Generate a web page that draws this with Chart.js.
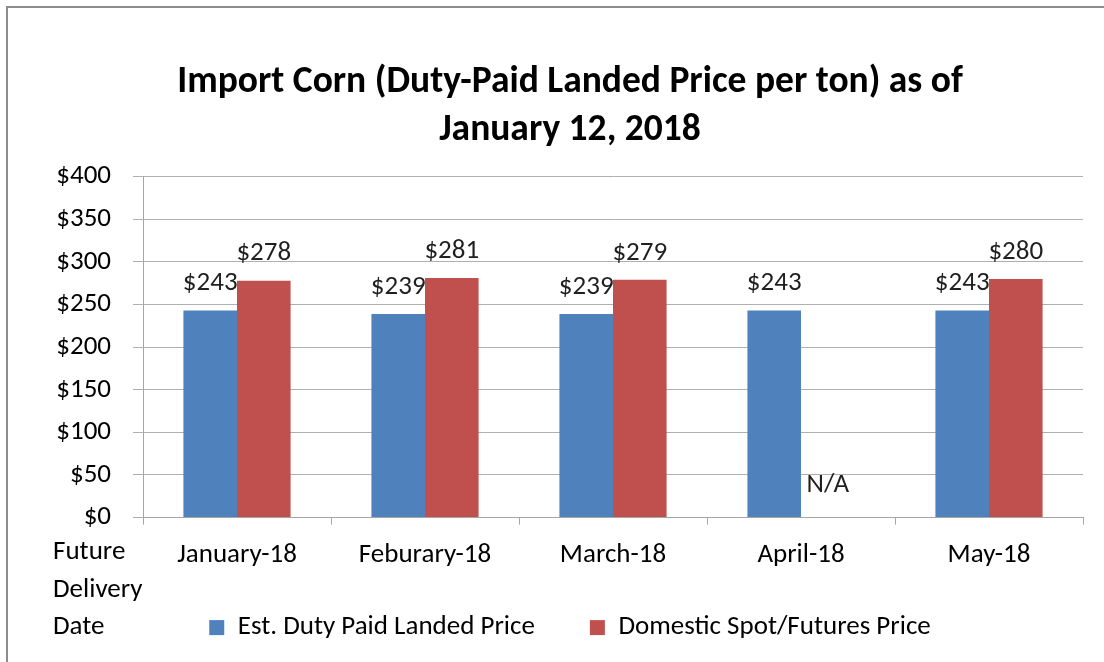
<!DOCTYPE html>
<html>
<head>
<meta charset="utf-8">
<script src="https://cdn.jsdelivr.net/npm/chart.js@4.4.1/dist/chart.umd.min.js"></script>
<style>
  html, body { margin: 0; padding: 0; background: #ffffff; overflow: hidden; }
  #frame { position: absolute; left: 6px; top: 6px; width: 1200px; height: 800px;
           border-left: 2px solid #8c8c8c; border-top: 2px solid #8c8c8c; }
  #wrap { position: absolute; left: 0; top: 0; width: 1104px; height: 662px; }
</style>
</head>
<body>
<div id="frame"></div>
<div id="wrap"><canvas id="c" width="1104" height="662"></canvas></div>
<script>
// ---- data ----
const categories = ['January-18', 'Feburary-18', 'March-18', 'April-18', 'May-18'];
const landedPrice = [243, 239, 239, 243, 243];
const domesticPrice = [278, 281, 279, null, 280];
const seriesNames = ['Est. Duty Paid Landed Price', 'Domestic Spot/Futures Price'];
const titleLines = ['Import Corn (Duty-Paid Landed Price per ton) as of', 'January 12, 2018'];
const axisNoteLines = ['Future', 'Delivery', 'Date'];
const missingLabel = 'N/A';
const yMin = 0, yMax = 400, yStep = 50;

const FONT = 'Carlito, Lato, "Open Sans", sans-serif';
const FS = 27;
const BLUE = '#4F81BD', RED = '#C0504D';
const NOTE_GAP = 37.5;

function noteTop(chart) { return chart.scales.x.top + 35; }

const valueLabels = {
  id: 'valueLabels',
  afterDatasetsDraw(chart) {
    const ctx = chart.ctx, ys = chart.scales.y;
    ctx.save();
    ctx.font = FS + 'px ' + FONT;
    ctx.fillStyle = '#1f1f1f';
    ctx.textAlign = 'center';
    ctx.textBaseline = 'middle';
    chart.data.datasets.forEach((ds, i) => {
      const meta = chart.getDatasetMeta(i);
      meta.data.forEach((bar, j) => {
        const v = ds.data[j];
        if (v === null || v === undefined) {
          ctx.fillText(missingLabel, bar.x, ys.bottom - 32);
        } else {
          ctx.fillText('$' + v, bar.x, bar.y - 27);
        }
      });
    });
    ctx.restore();
  }
};

const axisNote = {
  id: 'axisNote',
  afterLayout(chart) {
    // place the legend row on the same line as the last note line
    const lg = chart.legend;
    if (!lg) return;
    const pad = lg.options.labels.padding;
    const itemH = Math.max(FS, lg.options.labels.boxHeight);
    const target = noteTop(chart) + 2 * NOTE_GAP;
    lg.top = target - pad - itemH / 2;
    lg.bottom = lg.top + pad + itemH + 20;
    lg.height = lg.bottom - lg.top;
  },
  afterDraw(chart) {
    const ctx = chart.ctx, ys = chart.scales.y;
    ctx.save();
    ctx.font = FS + 'px ' + FONT;
    ctx.fillStyle = '#000000';
    ctx.textAlign = 'left';
    ctx.textBaseline = 'middle';
    const y0 = noteTop(chart);
    axisNoteLines.forEach((t, i) => ctx.fillText(t, ys.left - 4, y0 + i * NOTE_GAP));
    ctx.restore();
  }
};

new Chart(document.getElementById('c'), {
  type: 'bar',
  data: {
    labels: categories,
    datasets: [
      { label: seriesNames[0], data: landedPrice, backgroundColor: BLUE, borderWidth: 0 },
      { label: seriesNames[1], data: domesticPrice, backgroundColor: RED, borderWidth: 0 }
    ]
  },
  options: {
    responsive: false,
    animation: false,
    devicePixelRatio: 1,
    layout: { padding: { left: 57, right: 21, top: 6, bottom: 37 } },
    datasets: { bar: { barPercentage: 1.0, categoryPercentage: 0.57 } },
    plugins: {
      title: {
        display: true,
        text: titleLines,
        color: '#000000',
        font: { family: FONT, size: 37.5, weight: 'bold', lineHeight: 1.26 },
        padding: { top: 53.4, bottom: 22.8 }
      },
      legend: {
        position: 'bottom',
        maxHeight: 40,
        labels: {
          color: '#000000',
          font: { family: FONT, size: FS },
          boxWidth: 15, boxHeight: 15,
          padding: 55
        }
      },
      tooltip: { enabled: false }
    },
    scales: {
      x: {
        grid: { display: true, drawOnChartArea: false, drawTicks: true, tickLength: 7, offset: true, color: '#a6a6a6' },
        border: { display: true, color: '#a6a6a6' },
        ticks: { color: '#000000', font: { family: FONT, size: FS }, padding: 14, maxRotation: 0 }
      },
      y: {
        min: yMin, max: yMax,
        afterFit(scale) { scale.width = 86; },
        grid: { color: '#b0b0b0', tickLength: 10, drawTicks: true },
        border: { display: true, color: '#a6a6a6' },
        ticks: { stepSize: yStep, color: '#000000', padding: 22,
                 font: { family: FONT, size: FS }, callback: v => '$' + v }
      }
    }
  },
  plugins: [valueLabels, axisNote]
});
</script>
</body>
</html>
